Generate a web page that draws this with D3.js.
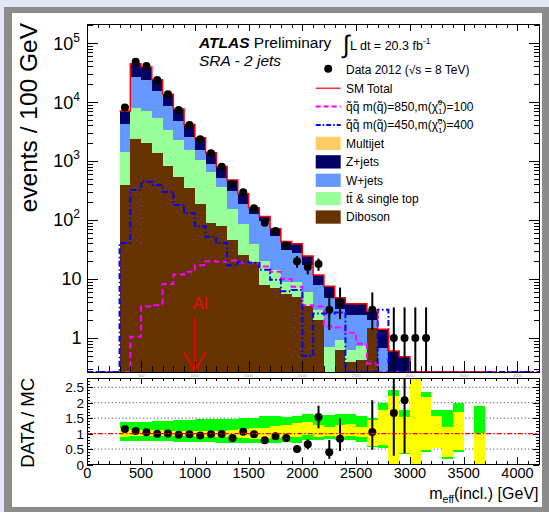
<!DOCTYPE html>
<html>
<head>
<meta charset="utf-8">
<script src="https://cdn.jsdelivr.net/npm/d3@7"></script>
<style>
    body { margin: 0; background: #e6e6fa; }
    svg { display: block; font-family: "Liberation Sans", Arial, Helvetica, sans-serif; }
</style>
</head>
<body>
<svg id="chart" width="549" height="512"></svg>
<script>
// lower bin edges, 100 GeV wide
const massLow = [0,100,200,300,400,500,600,700,800,900,1000,1100,1200,1300,1400,1500,1600,1700,1800,1900,
    2000,2100,2200,2300,2400,2500,2600,2700,2800,2900,3000,3100,3200,3300,3400,3500,3600,3700,3800,3900,4000,4100];
const binWidth = 100;

// background processes (events / 100 GeV), stacked bottom to top
const diboson = [0,0,0,390,2330,2000,1350,820,540,345,190,90,80,45,26,19.6,7.8,6.9,5.5,5,3.5,2,0.2,0.63,0.39,0.42,1.5,
    0,0,0,0,0,0,0,0,0,0,0,0,0,0,0];
const ttbar = [0,0,0,1050,5670,5000,3950,2530,1730,1190,850,570,285,110,60,20,12,7.4,3.5,4,2.5,1.0,0.5,0.3,0.24,0.3,
    0,0,0,0,0,0,0,0,0,0,0,0,0,0,0,0];
const wjets = [0,0,0,2750,18900,16500,10000,5150,2530,1065,510,240,155,150,100,85,75,40,22,19,11,5.0,4.0,2.2,1.8,1.7,
    0.55,0.67,0.05,0.03,0.02,0,0,0,0,0,0,0,0,0,0,0];
const zjets = [0,0,0,2870,17650,15550,8480,4990,2795,1548,929,480,290,169,92,36.4,20.2,16.7,12,11.6,7.5,3.7,2.8,1.67,
    1.37,1.38,0.8,0.73,0.55,0.45,0.2,0.2,0.15,0.12,0.1,0,0.08,0,0,0,0,0];
const multijet = [0,0,0,10,50,50,20,10,5,2,1,0,0,0,0,0,0,0,0,0,0,0,0,0,0,0,0,0,0,0,0,0,0,0,0,0,0,0,0,0,0,0];

// data 2012
const data = [0,0,0,8100,48200,40700,23600,13500,7300,4070,2330,1350,800,408,295,158,90,65,37,20,16,18,3,4,0,0,3,0,
    1,1,1,1,0,0,0,0,0,0,0,0,0,0];
// poisson intervals for small counts (index = count)
const errDownSmall = [0, 0.83, 1.29, 1.63, 1.91];
const errUpSmall = [1.84, 2.30, 2.64, 2.92, 3.16];

// signal points
const signalA = [0,0,0,0,1.05,3.4,3.6,8.2,11.9,13.3,17.1,20,19.5,20.6,19,18.5,16.2,13.3,10,7.4,3.6,3.4,1.57,1.5,1.23,
    0.8,0.37,0,0,0,0,0,0,0,0,0,0,0,0,0,0,0];
const signalB = [0,0,0,40.6,322,447,392,302,180,130,78,52,40.6,17.1,19.6,18.8,14.3,9.7,6.2,6.5,0.5,2.6,2.6,2.7,0,0,0,
    3.0,0,0,0,0,0,0,0,0,0,0,0,0,0,0];

// uncertainty bands in the ratio panel
const greenHi = [null,null,null,1.36,1.37,1.39,1.41,1.42,1.43,1.45,1.46,1.47,1.47,1.48,1.50,1.52,1.58,1.56,1.55,1.57,
    1.62,1.60,1.60,1.62,1.63,1.57,1.49,2.00,2.41,1.76,2.80,2.36,1.76,1.76,1.98,null,1.89,null,null,null,null,null];
const greenLo = [null,null,null,0.77,0.77,0.76,0.75,0.75,0.74,0.73,0.72,0.72,0.71,0.71,0.70,0.70,0.69,0.70,0.73,0.70,
    0.80,0.79,0.84,0.79,0.79,0.73,0.58,0.52,0.00,0.35,0.00,0.41,0.55,0.18,0.39,null,0.00,null,null,null,null,null];
const yellowHi = [null,null,null,1.14,1.13,1.12,1.11,1.10,1.09,1.09,1.08,1.09,1.10,1.13,1.16,1.17,1.17,1.26,1.28,1.33,
    1.38,1.28,1.22,1.28,1.31,1.22,1.45,1.76,2.22,1.55,2.80,2.17,1.57,1.22,1.71,null,1.03,null,null,null,null,null];
const yellowLo = [null,null,null,0.90,0.91,0.91,0.91,0.92,0.92,0.91,0.90,0.90,0.89,0.88,0.86,0.84,0.83,0.86,0.90,0.90,
    0.95,0.90,0.92,0.90,0.92,0.90,0.60,0.63,0.00,0.38,0.00,0.46,0.55,0.25,0.46,null,0.00,null,null,null,null,null];

const cutValue = 1000;

const svg = d3.select("#chart");

// canvas frame
svg.append("rect").attr("x", 4).attr("y", 7).attr("width", 545).attr("height", 505).attr("fill", "#8c8c8c");
svg.append("rect").attr("x", 12).attr("y", 13).attr("width", 530).attr("height", 494).attr("fill", "#fff");

const left = 87.3, right = 539;
const topY0 = 24, topY1 = 372, ratioY0 = 378, ratioY1 = 464.5;

const x = d3.scaleLinear().domain([0, 4200]).range([left, right]);
const yMin = 0.265, yMax = 2.1e5;
const y = d3.scaleLog().domain([yMin, yMax]).range([topY1, topY0]);
const yv = v => (v > yMin ? y(Math.min(v, yMax)) : topY1);
const yR = d3.scaleLinear().domain([0, 2.8]).range([ratioY1, ratioY0]).clamp(true);

const defs = svg.append("defs");
defs.append("clipPath").attr("id", "clipTop").append("rect")
    .attr("x", left).attr("y", topY0).attr("width", right - left).attr("height", topY1 - topY0);
defs.append("clipPath").attr("id", "clipLines").append("rect")
    .attr("x", left).attr("y", topY0).attr("width", right - left).attr("height", topY1 - topY0 + 1);
defs.append("clipPath").attr("id", "clipRatio").append("rect")
    .attr("x", left).attr("y", ratioY0).attr("width", right - left).attr("height", ratioY1 - ratioY0);

// ---------- top panel ----------
const keys = ["diboson", "ttbar", "wjets", "zjets", "multijet"];
const colors = {diboson: "#663300", ttbar: "#99ff99", wjets: "#6699ff", zjets: "#000066", multijet: "#ffcc66"};
const rows = massLow.map((m, i) => ({m: m, diboson: diboson[i], ttbar: ttbar[i], wjets: wjets[i],
    zjets: zjets[i], multijet: multijet[i]}));
const series = d3.stack().keys(keys)(rows);
const total = series[series.length - 1].map(d => d[1]);

const gStack = svg.append("g").attr("clip-path", "url(#clipTop)");
series.forEach(function (s) {
    gStack.selectAll(".bar-" + s.key)
        .data(s.filter(d => d[1] > d[0] && d[1] > yMin))
        .enter().append("rect")
        .attr("x", d => x(d.data.m))
        .attr("width", d => x(d.data.m + binWidth) - x(d.data.m))
        .attr("y", d => yv(d[1]))
        .attr("height", d => yv(d[0]) - yv(d[1]))
        .attr("fill", colors[s.key])
        .attr("shape-rendering", "crispEdges");
});

function stepPoints(values, from, to) {
    let pts = [];
    for (let i = from; i <= to; i++) {
        pts.push([x(massLow[i]), yv(values[i])]);
        pts.push([x(massLow[i] + binWidth), yv(values[i])]);
    }
    return pts;
}

const line = d3.line();
const gLines = svg.append("g").attr("clip-path", "url(#clipLines)");

gLines.append("path")
    .attr("d", line(stepPoints(signalA, 0, massLow.length - 1)))
    .attr("fill", "none").attr("stroke", "#ff00ff").attr("stroke-width", 2)
    .attr("stroke-dasharray", "6,3.5");

gLines.append("path")
    .attr("d", line(stepPoints(signalB, 0, massLow.length - 1)))
    .attr("fill", "none").attr("stroke", "#0000ff").attr("stroke-width", 2)
    .attr("stroke-dasharray", "6,2.5,1.5,2.5");

// SM total outline
gLines.append("path")
    .attr("d", line(stepPoints(total, 3, 36)))
    .attr("fill", "none").attr("stroke", "#ff0000").attr("stroke-width", 1.5);

function errDown(n) { return n < errDownSmall.length ? errDownSmall[n] : Math.sqrt(n); }
function errUp(n) { return n < errUpSmall.length ? errUpSmall[n] : Math.sqrt(n); }

const points = massLow.map((m, i) => ({m: m, n: data[i], t: total[i]})).filter(d => d.n > 0);

const gData = svg.append("g").attr("clip-path", "url(#clipTop)");
gData.selectAll(".err").data(points).enter().append("line")
    .attr("x1", d => x(d.m + binWidth / 2)).attr("x2", d => x(d.m + binWidth / 2))
    .attr("y1", d => yv(d.n - errDown(d.n))).attr("y2", d => yv(d.n + errUp(d.n)))
    .attr("stroke", "#000").attr("stroke-width", 2);
gData.selectAll(".pt").data(points).enter().append("circle")
    .attr("cx", d => x(d.m + binWidth / 2)).attr("cy", d => yv(d.n)).attr("r", 4)
    .attr("fill", "#000");

// cut arrow
const arrowX = x(cutValue);
svg.append("line").attr("x1", arrowX).attr("x2", arrowX).attr("y1", topY1 - 54).attr("y2", topY1 - 1)
    .attr("stroke", "#ff0000").attr("stroke-width", 1.5);
svg.append("polyline")
    .attr("points", [[arrowX - 11, topY1 - 20], [arrowX, topY1 - 1], [arrowX + 11, topY1 - 20]].join(" "))
    .attr("fill", "none").attr("stroke", "#ff0000").attr("stroke-width", 1.5);
svg.append("text").attr("x", arrowX + 5.5).attr("y", topY1 - 63.5).attr("text-anchor", "middle")
    .attr("font-size", 16).attr("fill", "#ff0000").text("AI");

// ---------- ticks ----------
function ticks(axisFn, scale, values, size, transform) {
    const g = svg.append("g").attr("transform", transform)
        .call(axisFn(scale).tickValues(values).tickSize(size).tickFormat(""));
    g.select(".domain").remove();
    g.selectAll("line").attr("stroke", "#000").attr("shape-rendering", "crispEdges");
    return g;
}

const xMajor = x.ticks(8);
const xMinor = x.ticks(42).filter(v => v % 500 !== 0);
const yAll = y.ticks();
const yMajor = yAll.filter(v => Math.abs(Math.log10(v) - Math.round(Math.log10(v))) < 1e-6);
const yMinor = yAll.filter(v => yMajor.indexOf(v) < 0);

ticks(d3.axisBottom, x, xMajor, -11, "translate(0," + topY1 + ")");
ticks(d3.axisBottom, x, xMinor, -6, "translate(0," + topY1 + ")");
ticks(d3.axisTop, x, xMajor, -7, "translate(0," + topY0 + ")");
ticks(d3.axisTop, x, xMinor, -4, "translate(0," + topY0 + ")");
ticks(d3.axisLeft, y, yMajor, -11, "translate(" + left + ",0)");
ticks(d3.axisLeft, y, yMinor, -6, "translate(" + left + ",0)");
ticks(d3.axisRight, y, yMajor, -10, "translate(" + right + ",0)");
ticks(d3.axisRight, y, yMinor, -5, "translate(" + right + ",0)");

svg.append("rect").attr("x", left).attr("y", topY0).attr("width", right - left).attr("height", topY1 - topY0)
    .attr("fill", "none").attr("stroke", "#000").attr("shape-rendering", "crispEdges");

// log labels
yMajor.forEach(function (v) {
    const k = Math.round(Math.log10(v));
    const t = svg.append("text").attr("text-anchor", "end").attr("font-size", 18)
        .attr("y", y(v) + 6.5);
    if (k < 2) {
        t.attr("x", 81.5).text(k === 0 ? "1" : "10");
    } else {
        t.attr("x", 80).text("10");
        t.append("tspan").attr("font-size", 12).attr("dy", -8).text(k);
    }
});

// faint labels of the hidden top-panel axis
svg.selectAll(".faint").data(xMajor.filter(v => v > 0)).enter().append("text")
    .attr("x", d => x(d)).attr("y", topY1 + 4.5).attr("text-anchor", "middle")
    .attr("font-size", 4).attr("fill", "#999").text(d => d);

svg.append("text").attr("transform", "translate(37," + (topY0 - 1) + ") rotate(-90)")
    .attr("text-anchor", "end").attr("font-size", 24.5).text("events / 100 GeV");

// ---------- labels and legend ----------
const atlas = svg.append("text").attr("x", 199).attr("y", 47.5).attr("font-size", 15.5);
atlas.append("tspan").attr("font-weight", "bold").attr("font-style", "italic").text("ATLAS");
atlas.append("tspan").text(" Preliminary");
svg.append("text").attr("x", 199).attr("y", 66).attr("font-size", 15.5).attr("font-style", "italic")
    .text("SRA - 2 jets");

svg.append("text").attr("x", 343).attr("y", 53).attr("font-size", 25).text("\u222B");
const lumi = svg.append("text").attr("x", 350).attr("y", 50).attr("font-size", 12.5);
lumi.append("tspan").text("L dt = 20.3 fb");
lumi.append("tspan").attr("font-size", 8.5).attr("dy", -6).text("-1");

const legendEntries = [
    {type: "marker", label: "Data 2012 (\u221As = 8 TeV)"},
    {type: "line", color: "#ff0000", dash: null, label: "SM Total"},
    {type: "line", color: "#ff00ff", dash: "5,3", mass: ["850", "100"]},
    {type: "line", color: "#0000ff", dash: "5,2,1.5,2", mass: ["450", "400"]},
    {type: "box", color: colors.multijet, label: "Multijet"},
    {type: "box", color: colors.zjets, label: "Z+jets"},
    {type: "box", color: colors.wjets, label: "W+jets"},
    {type: "box", color: colors.ttbar, label: "tt\u0304 & single top"},
    {type: "box", color: colors.diboson, label: "Diboson"}
];
const legX = 315.7, legW = 25, legY0 = 69.8, legStep = 18.4;
legendEntries.forEach(function (e, i) {
    const cy = legY0 + i * legStep;
    if (e.type === "marker") {
        svg.append("circle").attr("cx", legX + 12.5).attr("cy", cy - 1).attr("r", 4).attr("fill", "#000");
    } else if (e.type === "line") {
        svg.append("line").attr("x1", legX).attr("x2", legX + legW).attr("y1", cy).attr("y2", cy)
            .attr("stroke", e.color).attr("stroke-width", e.dash ? 2 : 1.2)
            .attr("stroke-dasharray", e.dash);
    } else {
        svg.append("rect").attr("x", legX).attr("y", cy - 6.6).attr("width", legW).attr("height", 13.3)
            .attr("fill", e.color);
    }
    const t = svg.append("text").attr("x", 346).attr("y", cy + 4.3).attr("font-size", 12);
    if (e.mass) {
        t.append("tspan").text("q\u0303q\u0303 m(q\u0303)=" + e.mass[0] + ",m(\u03C7\u0303");
        t.append("tspan").attr("font-size", 8).attr("dy", 3.5).text("1");
        t.append("tspan").attr("font-size", 8).attr("dx", -4.4).attr("dy", -9).text("0");
        t.append("tspan").attr("dy", 5.5).text(")=" + e.mass[1]);
    } else {
        t.text(e.label);
    }
});

// ---------- ratio panel ----------
const rMajor = yR.ticks(6);
const rMinor = yR.ticks(28).filter(v => rMajor.indexOf(v) < 0);

svg.selectAll(".grid").data(rMajor.filter(v => v > 0)).enter().append("line")
    .attr("x1", left).attr("x2", right).attr("y1", d => yR(d)).attr("y2", d => yR(d))
    .attr("stroke", "#000").attr("stroke-width", 0.8).attr("stroke-dasharray", "1,2.5");

const bands = massLow.map((m, i) => ({m: m, gHi: greenHi[i], gLo: greenLo[i], yHi: yellowHi[i], yLo: yellowLo[i]}))
    .filter(d => d.gHi !== null);
const gRatio = svg.append("g").attr("clip-path", "url(#clipRatio)");
gRatio.selectAll(".green").data(bands).enter().append("rect")
    .attr("x", d => x(d.m)).attr("width", d => x(d.m + binWidth) - x(d.m))
    .attr("y", d => yR(d.gHi)).attr("height", d => yR(d.gLo) - yR(d.gHi))
    .attr("fill", "#00ff00").attr("shape-rendering", "crispEdges");
gRatio.selectAll(".yellow").data(bands).enter().append("rect")
    .attr("x", d => x(d.m)).attr("width", d => x(d.m + binWidth) - x(d.m))
    .attr("y", d => yR(d.yHi)).attr("height", d => yR(d.yLo) - yR(d.yHi))
    .attr("fill", "#ffff00").attr("shape-rendering", "crispEdges");

svg.append("line").attr("x1", left).attr("x2", right).attr("y1", yR(1)).attr("y2", yR(1))
    .attr("stroke", "#ff0000").attr("stroke-width", 1.2).attr("stroke-dasharray", "5,2,1.5,2");

const ratioPts = points.filter(d => d.t > 0 && d.n / d.t <= 2.8);
gRatio.selectAll(".rerr").data(ratioPts).enter().append("line")
    .attr("x1", d => x(d.m + binWidth / 2)).attr("x2", d => x(d.m + binWidth / 2))
    .attr("y1", d => yR((d.n - errDown(d.n)) / d.t)).attr("y2", d => yR((d.n + errUp(d.n)) / d.t))
    .attr("stroke", "#000").attr("stroke-width", 2);
gRatio.selectAll(".rpt").data(ratioPts).enter().append("circle")
    .attr("cx", d => x(d.m + binWidth / 2)).attr("cy", d => yR(d.n / d.t)).attr("r", 4)
    .attr("fill", "#000");

ticks(d3.axisBottom, x, xMajor, -8, "translate(0," + ratioY1 + ")");
ticks(d3.axisBottom, x, xMinor, -4, "translate(0," + ratioY1 + ")");
ticks(d3.axisTop, x, xMajor, -6, "translate(0," + ratioY0 + ")");
ticks(d3.axisTop, x, xMinor, -3, "translate(0," + ratioY0 + ")");
ticks(d3.axisLeft, yR, rMajor, -6, "translate(" + left + ",0)");
ticks(d3.axisLeft, yR, rMinor, -3, "translate(" + left + ",0)");
ticks(d3.axisRight, yR, rMajor, -6, "translate(" + right + ",0)");
ticks(d3.axisRight, yR, rMinor, -3, "translate(" + right + ",0)");

svg.append("rect").attr("x", left).attr("y", ratioY0).attr("width", right - left).attr("height", ratioY1 - ratioY0)
    .attr("fill", "none").attr("stroke", "#000").attr("shape-rendering", "crispEdges");

svg.selectAll(".rlab").data(rMajor).enter().append("text")
    .attr("x", 84).attr("y", d => yR(d) + 5).attr("text-anchor", "end").attr("font-size", 13.5)
    .text(d => d);

svg.selectAll(".xlab").data(xMajor).enter().append("text")
    .attr("x", d => x(d)).attr("y", 477.5).attr("text-anchor", "middle").attr("font-size", 14.5)
    .text(d => d);

const xTitle = svg.append("text").attr("x", 538.5).attr("y", 498.5).attr("text-anchor", "end").attr("font-size", 16);
xTitle.append("tspan").text("m");
xTitle.append("tspan").attr("font-size", 10.5).attr("dy", 4).text("eff");
xTitle.append("tspan").attr("dy", -4).text("(incl.) [GeV]");

svg.append("text").attr("transform", "translate(33.5," + ratioY0 + ") rotate(-90)")
    .attr("text-anchor", "end").attr("font-size", 18.5).text("DATA / MC");
</script>
</body>
</html>
